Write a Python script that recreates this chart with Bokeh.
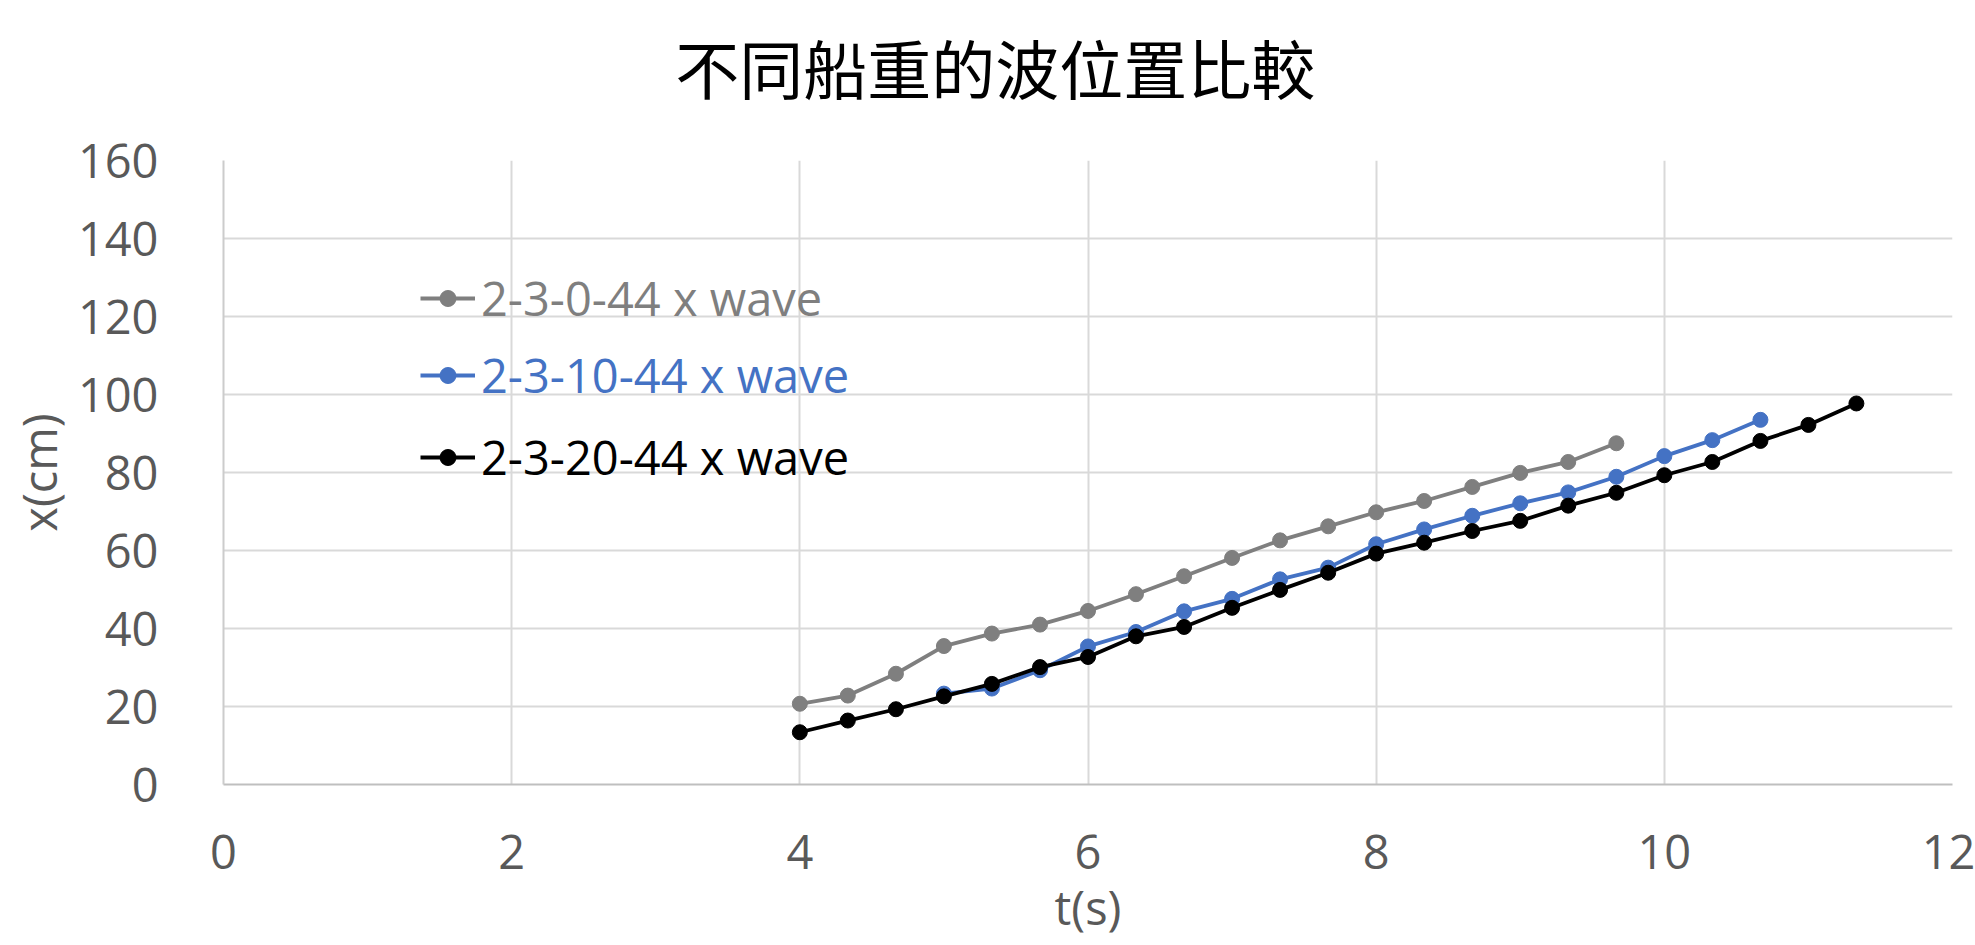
from bokeh.plotting import figure
from bokeh.models import Legend, LegendItem, FixedTicker, Range1d, Label
from bokeh.embed import file_html
from bokeh.resources import INLINE

# Wave position (cm) against time (s) for three boat loads
t_0 = [4.0, 4.333, 4.667, 5.0, 5.333, 5.667, 6.0, 6.333, 6.667, 7.0,
       7.333, 7.667, 8.0, 8.333, 8.667, 9.0, 9.333, 9.667]
x_0 = [20.7, 22.8, 28.4, 35.5, 38.7, 41.0, 44.5, 48.8, 53.4, 58.1,
       62.6, 66.2, 69.8, 72.7, 76.3, 79.9, 82.7, 87.5]

t_10 = [5.0, 5.333, 5.667, 6.0, 6.333, 6.667, 7.0, 7.333, 7.667, 8.0,
        8.333, 8.667, 9.0, 9.333, 9.667, 10.0, 10.333, 10.667]
x_10 = [23.3, 24.6, 29.3, 35.4, 39.1, 44.4, 47.6, 52.6, 55.6, 61.6,
        65.4, 68.9, 72.1, 74.9, 78.9, 84.2, 88.3, 93.5]

t_20 = [4.0, 4.333, 4.667, 5.0, 5.333, 5.667, 6.0, 6.333, 6.667, 7.0,
        7.333, 7.667, 8.0, 8.333, 8.667, 9.0, 9.333, 9.667, 10.0, 10.333,
        10.667, 11.0, 11.333]
x_20 = [13.4, 16.4, 19.3, 22.6, 25.8, 30.1, 32.7, 38.0, 40.4, 45.3,
        49.9, 54.3, 59.2, 62.0, 65.0, 67.6, 71.5, 74.8, 79.3, 82.7,
        88.1, 92.2, 97.7]

series_names = ["2-3-0-44 x wave", "2-3-10-44 x wave", "2-3-20-44 x wave"]
series_colors = ["#7f7f7f", "#4472c4", "#000000"]

x_ticks = [0, 2, 4, 6, 8, 10, 12]
y_ticks = [0, 20, 40, 60, 80, 100, 120, 140, 160]

title_text = "不同船重的波位置比較"
x_label = "t(s)"
y_label = "x(cm)"

NUM_FONT = "Open Sans"
TICK_COLOR = "#595959"

p = figure(width=1975, height=945, output_backend="svg", toolbar_location=None,
           x_range=Range1d(0, 12), y_range=Range1d(0, 160),
           min_border_left=223, min_border_right=23,
           min_border_top=160, min_border_bottom=161)
p.outline_line_color = None
p.background_fill_color = "white"
p.border_fill_color = "white"

# chart title, centred over the whole canvas rather than the frame
p.add_layout(Label(x=5.357, y=184.3,
                   text=title_text, text_align="center", text_baseline="middle",
                   text_font="Noto Sans CJK TC", text_font_size="64px",
                   text_color="#000000"), "above")

for ax in (p.xaxis[0], p.yaxis[0]):
    ax.major_tick_out = 0
    ax.major_tick_in = 0
    ax.minor_tick_out = 0
    ax.minor_tick_in = 0
    ax.major_label_text_font = NUM_FONT
    ax.major_label_text_font_size = "47px"
    ax.major_label_text_color = TICK_COLOR
    ax.axis_label_text_font = NUM_FONT
    ax.axis_label_text_font_size = "47px"
    ax.axis_label_text_color = TICK_COLOR
    ax.axis_label_text_font_style = "normal"

p.xaxis.ticker = FixedTicker(ticks=x_ticks)
p.yaxis.ticker = FixedTicker(ticks=y_ticks)
p.yaxis.axis_label = y_label
p.xaxis.major_label_standoff = 50
p.yaxis.major_label_standoff = 65
p.yaxis.axis_label_standoff = 4
p.xaxis.axis_line_color = "#bfbfbf"
p.xaxis.axis_line_width = 2
p.yaxis.axis_line_color = "#cccccc"
p.yaxis.axis_line_width = 2

# x-axis title sits low, at the bottom edge
p.add_layout(Label(x=6, y=-31.5, text=x_label, text_align="center",
                   text_baseline="alphabetic",
                   text_font=NUM_FONT, text_font_size="47px",
                   text_color=TICK_COLOR), "below")

p.xgrid.ticker = FixedTicker(ticks=x_ticks)
p.ygrid.ticker = FixedTicker(ticks=y_ticks)
for g in (p.xgrid[0], p.ygrid[0]):
    g.grid_line_color = "#d9d9d9"
    g.grid_line_width = 2

data = [(t_0, x_0), (t_10, x_10), (t_20, x_20)]
renderers = []
for (tt, xx), color in zip(data, series_colors):
    ln = p.line(tt, xx, line_color=color, line_width=3.8)
    sc = p.scatter(tt, xx, marker="circle", size=15, fill_color=color, line_color=color)
    renderers.append((ln, sc))

legend_tops = [454, 377, 295]
for (ln, sc), name, color, top in zip(renderers, series_names, series_colors, legend_tops):
    leg = Legend(items=[LegendItem(label=name, renderers=[ln, sc])],
                 location=(197, top), border_line_color=None,
                 background_fill_alpha=0, padding=0, margin=0,
                 glyph_width=55, glyph_height=40, label_standoff=6,
                 label_text_font=NUM_FONT, label_text_font_size="47px",
                 label_text_color=color)
    p.add_layout(leg)

open("out.html", "w").write(file_html(p, INLINE))
